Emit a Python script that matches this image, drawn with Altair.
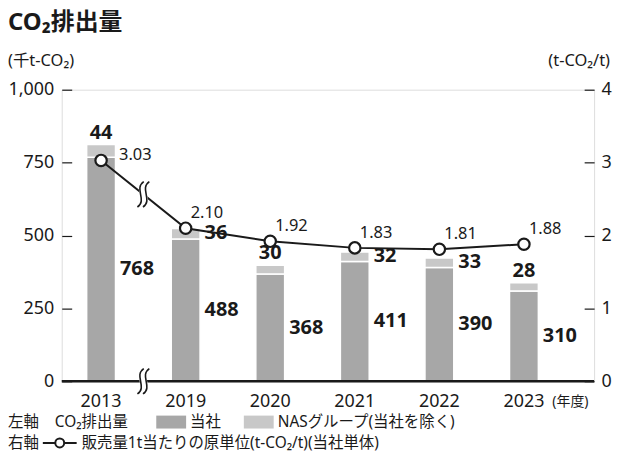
import altair as alt
import pandas as pd

# ---- data ----
years = ["2013", "2019", "2020", "2021", "2022", "2023"]
company = [768, 488, 368, 411, 390, 310]          # 当社 (千t-CO2)
nas = [44, 36, 30, 32, 33, 28]                    # NASグループ(当社を除く)
intensity = [3.03, 2.10, 1.92, 1.83, 1.81, 1.88]  # 販売量1t当たりの原単位
nas_above = ["2013", "2020", "2023"]              # NAS labels drawn above the bar

left_ticks = [0, 250, 500, 750, 1000]
right_ticks = [0, 1, 2, 3, 4]

W, H = 535, 293
FONT = "Noto Sans, Noto Sans CJK JP"
DARK = "#a7a7a7"
LIGHT = "#c8c8c8"
INK = "#1a1a1a"

# wavy "break" symbol (two S-curves) and the white patch behind it
BREAK = ("M 0.03,-1 C -0.77,-0.45 0.33,0.45 -0.47,1 "
         "M 0.47,-1 C -0.33,-0.45 0.77,0.45 -0.03,1")
BREAK_MASK = ("M 0.03,-1 C -0.77,-0.45 0.33,0.45 -0.47,1 L -0.03,1 "
              "C 0.77,0.45 -0.33,-0.45 0.47,-1 Z")

df = pd.DataFrame({"year": years, "company": company, "nas": nas, "intensity": intensity})
df["total"] = df["company"] + df["nas"]
df["company_mid"] = df["company"] / 2
df["nas_mid"] = df["company"] + df["nas"] / 2
df["above"] = df["year"].isin(nas_above)
brk = (intensity[0] + intensity[1]) / 2

x_scale = alt.Scale(domain=years, paddingInner=0.659, paddingOuter=0.477, align=0.309)
x_axis = alt.Axis(title=None, domain=False, ticks=False, labelPadding=11, labelFontSize=18,
                  labelColor=INK, labelFont=FONT, labelAngle=0, labelBaseline="top")
X = alt.X("year:N", scale=x_scale, axis=x_axis, sort=years)

yl_scale = alt.Scale(domain=[0, 1000], nice=False)
yl_axis = alt.Axis(title=None, orient="left", values=left_ticks,
                   labelExpr="format(datum.value, ',')", domain=False,
                   grid=False, tickSize=10, tickColor=INK, tickWidth=1.2, offset=-10,
                   labelPadding=8, labelFontSize=18, labelColor=INK, labelFont=FONT)
yr_scale = alt.Scale(domain=[0, 4], nice=False)
yr_axis = alt.Axis(title=None, orient="right", values=right_ticks,
                   labelExpr="format(datum.value, 'd')", domain=False,
                   grid=False, tickSize=10, tickColor=INK, tickWidth=1.2, offset=-10,
                   labelPadding=7, labelFontSize=18, labelColor=INK, labelFont=FONT)

base = alt.Chart(df)
first = base.transform_filter(alt.datum.year == years[0])

bar_c = base.mark_bar(color=DARK, stroke="white", strokeWidth=1.5).encode(
    x=X, y=alt.Y("company:Q", scale=yl_scale, axis=yl_axis))
bar_n = base.mark_bar(color=LIGHT, stroke="white", strokeWidth=1.5).encode(
    x=X, y=alt.Y("total:Q", scale=yl_scale, axis=yl_axis), y2="company:Q")

one = pd.DataFrame({"k": [0]})
baseline = alt.Chart(one).mark_rule(color=INK, strokeWidth=2.6).encode(
    y=alt.datum(0, scale=yl_scale), x=alt.value(0), x2=alt.value(W))

axis_mask = first.mark_point(shape=BREAK_MASK, filled=True, fill="white", stroke="white",
                             strokeWidth=2, size=650, opacity=1, xOffset=42.5).encode(
    x=X, y=alt.datum(0, scale=yl_scale))
axis_sym = first.mark_point(shape=BREAK, filled=False, stroke=INK, strokeWidth=1.6,
                            size=650, opacity=1, xOffset=42.5).encode(
    x=X, y=alt.datum(0, scale=yl_scale))

lab_c = base.mark_text(align="left", baseline="middle", dx=19, fontSize=20, fontWeight="bold",
                       color=INK, font=FONT).encode(
    x=X, y=alt.Y("company_mid:Q", scale=yl_scale), text="company:Q")
lab_n_above = base.transform_filter(alt.datum.above).mark_text(
    baseline="bottom", dy=-2, fontSize=20, fontWeight="bold", color=INK, font=FONT).encode(
    x=X, y=alt.Y("total:Q", scale=yl_scale), text="nas:Q")
lab_n_right = base.transform_filter(~alt.datum.above).mark_text(
    align="left", baseline="middle", dx=19, dy=-1, fontSize=20, fontWeight="bold",
    color=INK, font=FONT).encode(
    x=X, y=alt.Y("nas_mid:Q", scale=yl_scale), text="nas:Q")

left = alt.layer(bar_c, bar_n, baseline, axis_mask, axis_sym, lab_c, lab_n_above, lab_n_right)

line = base.mark_line(color=INK, strokeWidth=2).encode(
    x=X, y=alt.Y("intensity:Q", scale=yr_scale, axis=yr_axis))
line_mask = first.mark_point(shape=BREAK_MASK, filled=True, fill="white", stroke="white",
                             strokeWidth=2, size=650, opacity=1, xOffset=42.5).encode(
    x=X, y=alt.datum(brk, scale=yr_scale))
line_sym = first.mark_point(shape=BREAK, filled=False, stroke=INK, strokeWidth=1.6,
                            size=650, opacity=1, xOffset=42.5).encode(
    x=X, y=alt.datum(brk, scale=yr_scale))
pts = base.mark_point(shape="circle", filled=True, fill="white", stroke=INK, strokeWidth=2.2,
                      size=130, opacity=1).encode(
    x=X, y=alt.Y("intensity:Q", scale=yr_scale))
lab_i0 = first.mark_text(align="left", baseline="middle", dx=18, dy=-5, fontSize=16.5,
                         color=INK, font=FONT).encode(
    x=X, y=alt.Y("intensity:Q", scale=yr_scale), text=alt.Text("intensity:Q", format=".2f"))
lab_i = base.transform_filter(alt.datum.year != years[0]).mark_text(
    align="left", baseline="middle", dx=5, dy=-15, fontSize=16.5, color=INK, font=FONT).encode(
    x=X, y=alt.Y("intensity:Q", scale=yr_scale), text=alt.Text("intensity:Q", format=".2f"))

right = alt.layer(line, line_mask, line_sym, pts, lab_i0, lab_i)


def label(txt, x, y, size=15.5, weight="normal", align="left"):
    return alt.Chart(one).mark_text(text=txt, align=align, baseline="middle", fontSize=size,
                                    fontWeight=weight, color=INK, font=FONT).encode(
        x=alt.value(x), y=alt.value(y))


def swatch(x0, x1, y0, y1, color):
    return alt.Chart(one).mark_rect(color=color).encode(
        x=alt.value(x0), x2=alt.value(x1), y=alt.value(y0), y2=alt.value(y1))


R1, R2 = 334, 355
notes = alt.layer(
    label("CO₂排出量", -54, -66.5, size=24, weight="bold"),
    label("(千t-CO₂)", -54, -29, size=16.5),
    label("(t-CO₂/t)", 551, -29, size=16.5, align="right"),
    label("(年度)", 493, 314, size=14),
    label("左軸", -54, R1),
    label("CO₂排出量", -7, R1),
    swatch(95, 125, R1 - 6.5, R1 + 6.5, DARK),
    label("当社", 129, R1),
    swatch(183, 213, R1 - 6.5, R1 + 6.5, LIGHT),
    label("NASグループ(当社を除く)", 217, R1),
    label("右軸", -54, R2),
    alt.Chart(one).mark_rule(color=INK, strokeWidth=2).encode(
        x=alt.value(-19), x2=alt.value(15), y=alt.value(R2)),
    alt.Chart(one).mark_point(shape="circle", filled=True, fill="white", stroke=INK,
                              strokeWidth=2, size=80, opacity=1).encode(
        x=alt.value(-2), y=alt.value(R2)),
    label("販売量1t当たりの原単位(t-CO₂/t)(当社単体)", 20, R2),
)

chart = alt.layer(left, right, notes).resolve_scale(y="independent").properties(
    width=W, height=H,
    padding={"left": 54, "top": 81, "right": 22, "bottom": 75},
    autosize=alt.AutoSizeParams(type="none"),
).configure_view(stroke=None).configure(font=FONT)

chart.save("out.html", embed_options={"renderer": "svg", "actions": False})
